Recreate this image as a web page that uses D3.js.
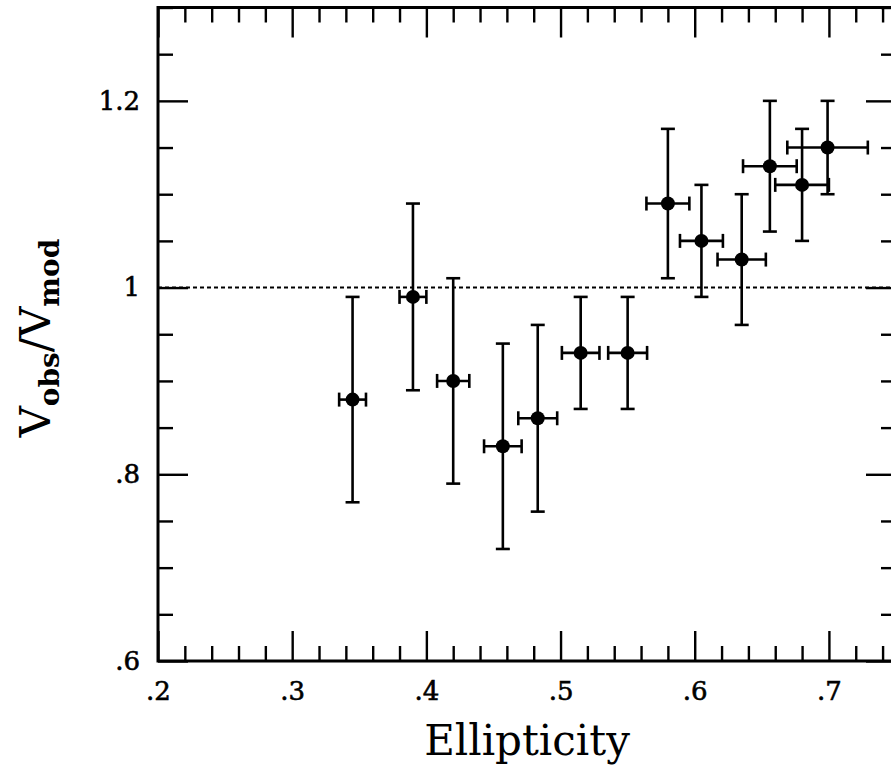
<!DOCTYPE html>
<html>
<head>
<meta charset="utf-8">
<script src="https://cdn.jsdelivr.net/npm/d3@7"></script>
<style>
  html, body { margin: 0; padding: 0; background: #fff; overflow: hidden; }
  text { font-family: "DejaVu Serif", "Liberation Serif", serif; fill: #000; }
</style>
</head>
<body>
<script>
// ellipticity and error
const ell    = [0.345, 0.390, 0.420, 0.457, 0.483, 0.515, 0.550, 0.580, 0.605, 0.635, 0.656, 0.680, 0.699];
const ellErr = [0.010, 0.010, 0.012, 0.014, 0.0145, 0.014, 0.0145, 0.016, 0.016, 0.018, 0.020, 0.020, 0.030];
// Vobs/Vmod with lower and upper error limits
const ratio   = [0.88, 0.99, 0.90, 0.83, 0.86, 0.93, 0.93, 1.09, 1.05, 1.03, 1.13, 1.11, 1.15];
const ratioLo = [0.77, 0.89, 0.79, 0.72, 0.76, 0.87, 0.87, 1.01, 0.99, 0.96, 1.06, 1.05, 1.10];
const ratioHi = [0.99, 1.09, 1.01, 0.94, 0.96, 0.99, 0.99, 1.17, 1.11, 1.10, 1.20, 1.17, 1.20];

const xMajor = [0.2, 0.3, 0.4, 0.5, 0.6, 0.7];
const xLabels = [".2", ".3", ".4", ".5", ".6", ".7"];
const yMajor = [0.6, 0.8, 1.0, 1.2];
const yLabels = [".6", ".8", "1", "1.2"];

const data = ell.map((e, i) => ({
  x: e, xe: ellErr[i], y: ratio[i], lo: ratioLo[i], hi: ratioHi[i]
}));

const svgWidth = 891, svgHeight = 771;
const svg = d3.select('body').append('svg')
  .attr('width', svgWidth)
  .attr('height', svgHeight);

const xScale = d3.scaleLinear().domain([0.2, 0.75]).range([158, 896]);
const yScale = d3.scaleLinear().domain([0.6, 1.3]).range([661, 7.5]);

const x0 = xScale.range()[0], x1 = xScale.range()[1];
const yB = yScale.range()[0], yT = yScale.range()[1];

// minor tick positions
const xMinor = d3.range(0, 28).map(i => +(0.2 + i * 0.02).toFixed(2)).filter(v => !xMajor.some(m => Math.abs(m - v) < 1e-6));
const yMinor = d3.range(0, 15).map(i => +(0.6 + i * 0.05).toFixed(2)).filter(v => !yMajor.some(m => Math.abs(m - v) < 1e-6));

function styleAxis(g) {
  g.select('.domain').remove();
  g.selectAll('.tick line').attr('stroke', '#000').attr('stroke-width', 2.4);
  g.selectAll('.tick text').style('font-size', '26px')
    .attr('stroke', '#000').attr('stroke-width', 0.6);
}

// bottom
svg.append('g').attr('transform', `translate(0,${yB})`)
  .call(d3.axisBottom(xScale).tickValues(xMinor).tickSize(-15).tickFormat(''))
  .call(styleAxis);
svg.append('g').attr('transform', `translate(0,${yB})`)
  .call(d3.axisBottom(xScale).tickValues(xMajor).tickSize(-30).tickPadding(0)
    .tickFormat((d, i) => xLabels[i]))
  .call(styleAxis)
  .selectAll('.tick text').attr('y', 21).attr('dy', '0.71em');

// top
svg.append('g').attr('transform', `translate(0,${yT})`)
  .call(d3.axisTop(xScale).tickValues(xMinor).tickSize(-15).tickFormat(''))
  .call(styleAxis);
svg.append('g').attr('transform', `translate(0,${yT})`)
  .call(d3.axisTop(xScale).tickValues(xMajor).tickSize(-30).tickFormat(''))
  .call(styleAxis);

// left
svg.append('g').attr('transform', `translate(${x0},0)`)
  .call(d3.axisLeft(yScale).tickValues(yMinor).tickSize(-15).tickFormat(''))
  .call(styleAxis);
svg.append('g').attr('transform', `translate(${x0},0)`)
  .call(d3.axisLeft(yScale).tickValues(yMajor).tickSize(-30).tickPadding(0)
    .tickFormat((d, i) => yLabels[i]))
  .call(styleAxis)
  .selectAll('.tick text').attr('x', -18);

// right
svg.append('g').attr('transform', `translate(${x1},0)`)
  .call(d3.axisRight(yScale).tickValues(yMinor).tickSize(-15).tickFormat(''))
  .call(styleAxis);
svg.append('g').attr('transform', `translate(${x1},0)`)
  .call(d3.axisRight(yScale).tickValues(yMajor).tickSize(-30).tickFormat(''))
  .call(styleAxis);

// frame
svg.append('rect')
  .attr('x', x0).attr('y', yT)
  .attr('width', x1 - x0).attr('height', yB - yT)
  .attr('fill', 'none').attr('stroke', '#000').attr('stroke-width', 3);

// reference line at 1
svg.append('line')
  .attr('x1', x0).attr('x2', x1)
  .attr('y1', yScale(1)).attr('y2', yScale(1))
  .attr('stroke', '#000').attr('stroke-width', 2)
  .attr('stroke-dasharray', '4,3');

// error bars
const cap = 7;
const pts = svg.append('g').attr('stroke', '#000').attr('stroke-width', 2.6);
data.forEach(d => {
  const cx = xScale(d.x), cy = yScale(d.y);
  const xl = xScale(d.x - d.xe), xr = xScale(d.x + d.xe);
  const yl = yScale(d.lo), yh = yScale(d.hi);
  pts.append('line').attr('x1', cx).attr('x2', cx).attr('y1', yl).attr('y2', yh);
  pts.append('line').attr('x1', cx - cap).attr('x2', cx + cap).attr('y1', yl).attr('y2', yl);
  pts.append('line').attr('x1', cx - cap).attr('x2', cx + cap).attr('y1', yh).attr('y2', yh);
  pts.append('line').attr('x1', xl).attr('x2', xr).attr('y1', cy).attr('y2', cy);
  pts.append('line').attr('x1', xl).attr('x2', xl).attr('y1', cy - cap).attr('y2', cy + cap);
  pts.append('line').attr('x1', xr).attr('x2', xr).attr('y1', cy - cap).attr('y2', cy + cap);
});

svg.append('g').selectAll('circle')
  .data(data)
  .enter().append('circle')
  .attr('cx', d => xScale(d.x))
  .attr('cy', d => yScale(d.y))
  .attr('r', 7)
  .attr('fill', '#000');

// axis titles
svg.append('text')
  .attr('x', 527).attr('y', 755)
  .attr('text-anchor', 'middle')
  .style('font-size', '42px')
  .text('Ellipticity');

const yt = svg.append('text')
  .attr('transform', 'translate(50,338) rotate(-90)')
  .attr('text-anchor', 'middle')
  .style('font-size', '43px');
yt.append('tspan').text('V');
yt.append('tspan').attr('dy', 9).style('font-size', '28px').style('font-weight', 'bold').text('obs');
yt.append('tspan').attr('dy', -9).text('/V');
yt.append('tspan').attr('dy', 9).style('font-size', '28px').style('font-weight', 'bold').text('mod');
</script>
</body>
</html>
